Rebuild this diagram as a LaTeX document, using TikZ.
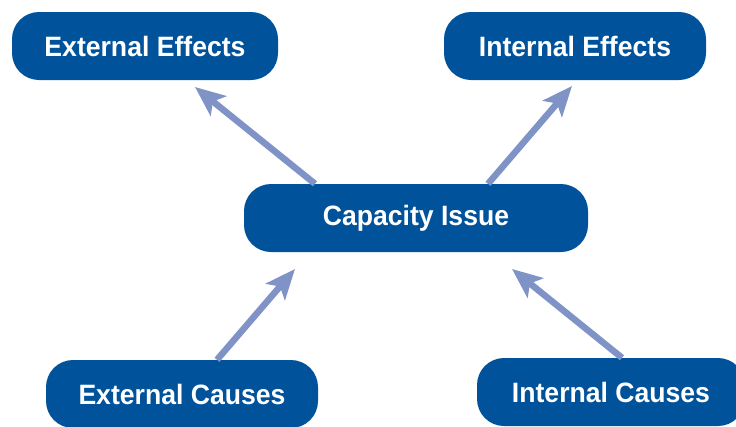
\documentclass[tikz,border=0pt]{standalone}
\usepackage{fontspec}
\setmainfont{Liberation Sans}[FakeStretch=0.95]
\usetikzlibrary{arrows.meta}
\definecolor{boxblue}{RGB}{0,82,155}
\definecolor{arrowblue}{RGB}{127,147,198}
\begin{document}
\begin{tikzpicture}[x=1pt,y=-1pt,
  box/.style={draw=none,fill=boxblue,rounded corners=27pt,minimum height=68pt,
    text=white,font=\fontsize{28}{32}\selectfont\bfseries,inner sep=0pt},
  arr/.style={draw=arrowblue,line width=6.5pt,
    -{Stealth[length=30pt,width=25pt,inset=7pt,fill=arrowblue]}}]
\useasboundingbox (0,0) rectangle (736,426);
\node[box,minimum width=266pt] (ee) at (145,46) {External Effects};
\node[box,minimum width=262pt] (ie) at (575,46) {Internal Effects};
\node[box,minimum width=344pt] (ci) at (416,218) {Capacity Issue};
\node[box,minimum width=272pt] (ec) at (182,394) {External Causes};
\node[box,minimum width=268pt] (ic) at (611,392) {Internal Causes};
\coordinate (t1) at (195,87);
\coordinate (t2) at (572,86);
\coordinate (t3) at (295,269);
\coordinate (t4) at (512,269);
\draw[arr] ([xshift=-101pt]ci.north) -- (t1);
\draw[arr] ([xshift=72pt]ci.north) -- (t2);
\draw[arr] ([xshift=35pt]ec.north) -- (t3);
\draw[arr] ([xshift=11pt]ic.north) -- (t4);
\end{tikzpicture}
\end{document}
